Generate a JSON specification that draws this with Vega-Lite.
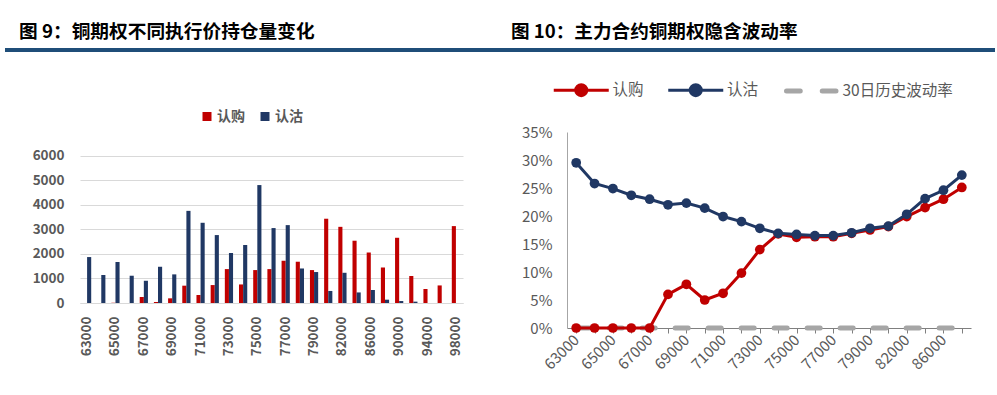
{
  "$schema": "https://vega.github.io/schema/vega-lite/v6.json",
  "padding": {"left": 3, "top": 22, "right": 0, "bottom": 0},
  "background": "white",
  "config": {"font": "Noto Sans CJK SC", "view": {"stroke": null}},
  "bounds": "flush",
  "spacing": 82,
  "resolve": {"scale": {"color": "independent"}, "legend": {"color": "independent"}},
  "vconcat": [
    {
      "hconcat": [
        {
          "width": 495, "height": 1,
          "title": {"text": "图 9：铜期权不同执行价持仓量变化", "anchor": "start", "frame": "group", "orient": "top", "offset": 10.5, "dx": 14, "dy": 19, "fontSize": 18.7, "fontWeight": "bold", "color": "#000000", "baseline": "alphabetic"},
          "data": {"values": [{"v": 1}]},
          "mark": {"type": "rule", "color": "#1F4E79", "strokeWidth": 4},
          "encoding": {"y": {"field": "v", "type": "quantitative", "scale": {"domain": [0, 1]}, "axis": null}}
        },
        {
          "width": 495, "height": 1,
          "title": {"text": "图 10：主力合约铜期权隐含波动率", "anchor": "start", "frame": "group", "orient": "top", "offset": 10.5, "dx": 11, "dy": 19, "fontSize": 18.6, "fontWeight": "bold", "color": "#000000", "baseline": "alphabetic"},
          "data": {"values": [{"v": 1}]},
          "mark": {"type": "rule", "color": "#1F4E79", "strokeWidth": 4},
          "encoding": {"y": {"field": "v", "type": "quantitative", "scale": {"domain": [0, 1]}, "axis": null}}
        }
      ],
      "spacing": 0,
      "bounds": "flush"
    },
    {
      "hconcat": [
        {
          "width": 75, "height": 1,
          "data": {"values": [{"v": 1}]},
          "mark": {"type": "text"},
          "encoding": {"text": {"value": ""}}
        },
        {
          "width": 383, "height": 171,
          "data": {"values": [
            {"strike": "63000", "type": "认购", "oi": 0}, {"strike": "63000", "type": "认沽", "oi": 1870},
            {"strike": "64000", "type": "认购", "oi": 0}, {"strike": "64000", "type": "认沽", "oi": 1140},
            {"strike": "65000", "type": "认购", "oi": 10}, {"strike": "65000", "type": "认沽", "oi": 1670},
            {"strike": "66000", "type": "认购", "oi": 0}, {"strike": "66000", "type": "认沽", "oi": 1110},
            {"strike": "67000", "type": "认购", "oi": 245}, {"strike": "67000", "type": "认沽", "oi": 905},
            {"strike": "68000", "type": "认购", "oi": 40}, {"strike": "68000", "type": "认沽", "oi": 1475},
            {"strike": "69000", "type": "认购", "oi": 190}, {"strike": "69000", "type": "认沽", "oi": 1165},
            {"strike": "70000", "type": "认购", "oi": 705}, {"strike": "70000", "type": "认沽", "oi": 3750},
            {"strike": "71000", "type": "认购", "oi": 325}, {"strike": "71000", "type": "认沽", "oi": 3265},
            {"strike": "72000", "type": "认购", "oi": 730}, {"strike": "72000", "type": "认沽", "oi": 2765},
            {"strike": "73000", "type": "认购", "oi": 1380}, {"strike": "73000", "type": "认沽", "oi": 2035},
            {"strike": "74000", "type": "认购", "oi": 755}, {"strike": "74000", "type": "认沽", "oi": 2360},
            {"strike": "75000", "type": "认购", "oi": 1340}, {"strike": "75000", "type": "认沽", "oi": 4800},
            {"strike": "76000", "type": "认购", "oi": 1380}, {"strike": "76000", "type": "认沽", "oi": 3050},
            {"strike": "77000", "type": "认购", "oi": 1720}, {"strike": "77000", "type": "认沽", "oi": 3170},
            {"strike": "78000", "type": "认购", "oi": 1680}, {"strike": "78000", "type": "认沽", "oi": 1405},
            {"strike": "79000", "type": "认购", "oi": 1340}, {"strike": "79000", "type": "认沽", "oi": 1260},
            {"strike": "80000", "type": "认购", "oi": 3430}, {"strike": "80000", "type": "认沽", "oi": 490},
            {"strike": "82000", "type": "认购", "oi": 3100}, {"strike": "82000", "type": "认沽", "oi": 1230},
            {"strike": "84000", "type": "认购", "oi": 2535}, {"strike": "84000", "type": "认沽", "oi": 430},
            {"strike": "86000", "type": "认购", "oi": 2055}, {"strike": "86000", "type": "认沽", "oi": 530},
            {"strike": "88000", "type": "认购", "oi": 1445}, {"strike": "88000", "type": "认沽", "oi": 135},
            {"strike": "90000", "type": "认购", "oi": 2655}, {"strike": "90000", "type": "认沽", "oi": 80},
            {"strike": "92000", "type": "认购", "oi": 1100}, {"strike": "92000", "type": "认沽", "oi": 55},
            {"strike": "94000", "type": "认购", "oi": 570}, {"strike": "94000", "type": "认沽", "oi": 0},
            {"strike": "96000", "type": "认购", "oi": 715}, {"strike": "96000", "type": "认沽", "oi": 0},
            {"strike": "98000", "type": "认购", "oi": 3130}, {"strike": "98000", "type": "认沽", "oi": 0}
          ]},
          "mark": {"type": "bar"},
          "encoding": {
            "x": {"field": "strike", "type": "nominal", "sort": null,
                  "scale": {"paddingInner": 0.42, "paddingOuter": 0.21},
                  "axis": {"title": null, "labelAngle": -90, "values": ["63000","65000","67000","69000","71000","73000","75000","77000","79000","82000","86000","90000","94000","98000"],
                           "ticks": false, "domainColor": "#D9D9D9", "domainWidth": 1, "labelFontSize": 13.5, "labelFontWeight": "bold", "labelColor": "#595959", "labelPadding": 13, "grid": false}},
            "xOffset": {"field": "type", "type": "nominal", "sort": ["认购", "认沽"]},
            "y": {"field": "oi", "type": "quantitative", "scale": {"domain": [0, 6960], "nice": false},
                  "axis": {"title": null, "format": "d", "values": [0, 1000, 2000, 3000, 4000, 5000, 6000], "grid": true, "gridColor": "#D9D9D9", "domain": false, "ticks": false,
                           "labelFontSize": 13.5, "labelFontWeight": "bold", "labelPadding": 16, "labelColor": "#595959"}},
            "color": {"field": "type", "type": "nominal",
                      "scale": {"domain": ["认购", "认沽"], "range": ["#C00000", "#203864"]},
                      "legend": {"orient": "none", "legendX": 120, "legendY": -22.5, "direction": "horizontal", "title": null,
                                 "symbolType": "square", "symbolSize": 81, "labelFontSize": 14, "labelFontWeight": "bold", "labelColor": "#595959",
                                 "labelOffset": 3, "columnPadding": 13, "padding": 0}}
          }
        },
        {
          "width": 104, "height": 1,
          "data": {"values": [{"v": 1}]},
          "mark": {"type": "text"},
          "encoding": {"text": {"value": ""}}
        },
        {
          "width": 404, "height": 196,
          "data": {"values": [
            {"strike": "63000", "series": "认购", "iv": 0}, {"strike": "64000", "series": "认购", "iv": 0}, {"strike": "65000", "series": "认购", "iv": 0},
            {"strike": "66000", "series": "认购", "iv": 0}, {"strike": "67000", "series": "认购", "iv": 0}, {"strike": "68000", "series": "认购", "iv": 0.060},
            {"strike": "69000", "series": "认购", "iv": 0.078}, {"strike": "70000", "series": "认购", "iv": 0.050}, {"strike": "71000", "series": "认购", "iv": 0.062},
            {"strike": "72000", "series": "认购", "iv": 0.098}, {"strike": "73000", "series": "认购", "iv": 0.140}, {"strike": "74000", "series": "认购", "iv": 0.168},
            {"strike": "75000", "series": "认购", "iv": 0.162}, {"strike": "76000", "series": "认购", "iv": 0.163}, {"strike": "77000", "series": "认购", "iv": 0.163},
            {"strike": "78000", "series": "认购", "iv": 0.169}, {"strike": "79000", "series": "认购", "iv": 0.175}, {"strike": "80000", "series": "认购", "iv": 0.181},
            {"strike": "82000", "series": "认购", "iv": 0.199}, {"strike": "84000", "series": "认购", "iv": 0.215}, {"strike": "86000", "series": "认购", "iv": 0.230},
            {"strike": "88000", "series": "认购", "iv": 0.251},
            {"strike": "63000", "series": "认沽", "iv": 0.295}, {"strike": "64000", "series": "认沽", "iv": 0.258}, {"strike": "65000", "series": "认沽", "iv": 0.249},
            {"strike": "66000", "series": "认沽", "iv": 0.237}, {"strike": "67000", "series": "认沽", "iv": 0.230}, {"strike": "68000", "series": "认沽", "iv": 0.220},
            {"strike": "69000", "series": "认沽", "iv": 0.223}, {"strike": "70000", "series": "认沽", "iv": 0.214}, {"strike": "71000", "series": "认沽", "iv": 0.199},
            {"strike": "72000", "series": "认沽", "iv": 0.190}, {"strike": "73000", "series": "认沽", "iv": 0.178}, {"strike": "74000", "series": "认沽", "iv": 0.169},
            {"strike": "75000", "series": "认沽", "iv": 0.167}, {"strike": "76000", "series": "认沽", "iv": 0.165}, {"strike": "77000", "series": "认沽", "iv": 0.165},
            {"strike": "78000", "series": "认沽", "iv": 0.170}, {"strike": "79000", "series": "认沽", "iv": 0.178}, {"strike": "80000", "series": "认沽", "iv": 0.182},
            {"strike": "82000", "series": "认沽", "iv": 0.203}, {"strike": "84000", "series": "认沽", "iv": 0.231}, {"strike": "86000", "series": "认沽", "iv": 0.246},
            {"strike": "88000", "series": "认沽", "iv": 0.273},
            {"strike": "63000", "series": "30日历史波动率", "iv": 0}, {"strike": "64000", "series": "30日历史波动率", "iv": 0}, {"strike": "65000", "series": "30日历史波动率", "iv": 0},
            {"strike": "66000", "series": "30日历史波动率", "iv": 0}, {"strike": "67000", "series": "30日历史波动率", "iv": 0}, {"strike": "68000", "series": "30日历史波动率", "iv": 0},
            {"strike": "69000", "series": "30日历史波动率", "iv": 0}, {"strike": "70000", "series": "30日历史波动率", "iv": 0}, {"strike": "71000", "series": "30日历史波动率", "iv": 0},
            {"strike": "72000", "series": "30日历史波动率", "iv": 0}, {"strike": "73000", "series": "30日历史波动率", "iv": 0}, {"strike": "74000", "series": "30日历史波动率", "iv": 0},
            {"strike": "75000", "series": "30日历史波动率", "iv": 0}, {"strike": "76000", "series": "30日历史波动率", "iv": 0}, {"strike": "77000", "series": "30日历史波动率", "iv": 0},
            {"strike": "78000", "series": "30日历史波动率", "iv": 0}, {"strike": "79000", "series": "30日历史波动率", "iv": 0}, {"strike": "80000", "series": "30日历史波动率", "iv": 0},
            {"strike": "82000", "series": "30日历史波动率", "iv": 0}, {"strike": "84000", "series": "30日历史波动率", "iv": 0}, {"strike": "86000", "series": "30日历史波动率", "iv": 0},
            {"strike": "88000", "series": "30日历史波动率", "iv": 0}
          ]},
          "encoding": {
            "x": {"field": "strike", "type": "nominal", "sort": null,
                  "axis": {"title": null, "labelAngle": -45, "labelAlign": "right", "labelBaseline": "middle",
                           "labelExpr": "indexof(['63000','65000','67000','69000','71000','73000','75000','77000','79000','82000','86000'], datum.value) >= 0 ? datum.label : ''",
                           "domainColor": "#7F7F7F", "tickColor": "#7F7F7F", "tickSize": 5, "labelFontSize": 15, "labelPadding": 4, "labelColor": "#595959", "grid": false}},
            "y": {"field": "iv", "type": "quantitative", "scale": {"domain": [0, 0.35], "nice": false},
                  "axis": {"title": null, "format": ".0%", "values": [0, 0.05, 0.1, 0.15, 0.2, 0.25, 0.3, 0.35], "grid": false, "domainColor": "#A6A6A6", "ticks": false,
                           "labelPadding": 15, "labelFontSize": 15, "labelColor": "#595959"}},
            "color": {"field": "series", "type": "nominal",
                      "scale": {"domain": ["认购", "认沽", "30日历史波动率"], "range": ["#C00000", "#203864", "#A6A6A6"]},
                      "legend": {"orient": "none", "legendX": 6.5, "legendY": -50, "direction": "horizontal", "title": null,
                                 "symbolSize": 3025, "labelFontSize": 15.5, "labelColor": "#595959", "labelOffset": 23.5, "columnPadding": 17.5, "padding": 0,
                                 "encode": {"symbols": {"update": {
                                   "shape": {"signal": "datum.value === '30日历史波动率' ? 'M-0.9,0H-0.4M0.4,0H0.9' : 'M-1,0H1M-0.2,0A0.2,0.2,0,1,0,0.2,0A0.2,0.2,0,1,0,-0.2,0Z'"},
                                   "fill": {"signal": "datum.value === '认购' ? '#C00000' : datum.value === '认沽' ? '#203864' : 'transparent'"},
                                   "stroke": {"signal": "datum.value === '认购' ? '#C00000' : datum.value === '认沽' ? '#203864' : '#A6A6A6'"},
                                   "strokeWidth": {"signal": "datum.value === '30日历史波动率' ? 5 : 3"},
                                   "strokeCap": {"signal": "datum.value === '30日历史波动率' ? 'round' : 'butt'"},
                                   "opacity": {"value": 1}
                                 }}}}}
          },
          "layer": [
            {"transform": [{"filter": "datum.series === '30日历史波动率'"}], "mark": {"type": "line", "strokeWidth": 5, "strokeDash": [13, 20], "strokeCap": "round"}},
            {"transform": [{"filter": "datum.series === '认购'"}], "mark": {"type": "line", "strokeWidth": 3}},
            {"transform": [{"filter": "datum.series === '认购'"}], "mark": {"type": "point", "filled": true, "size": 95, "opacity": 1}},
            {"transform": [{"filter": "datum.series === '认沽'"}], "mark": {"type": "line", "strokeWidth": 3}},
            {"transform": [{"filter": "datum.series === '认沽'"}], "mark": {"type": "point", "filled": true, "size": 95, "opacity": 1}}
          ]
        }
      ],
      "spacing": 0,
      "bounds": "flush",
      "resolve": {"scale": {"color": "independent"}, "legend": {"color": "independent"}}
    }
  ]
}
